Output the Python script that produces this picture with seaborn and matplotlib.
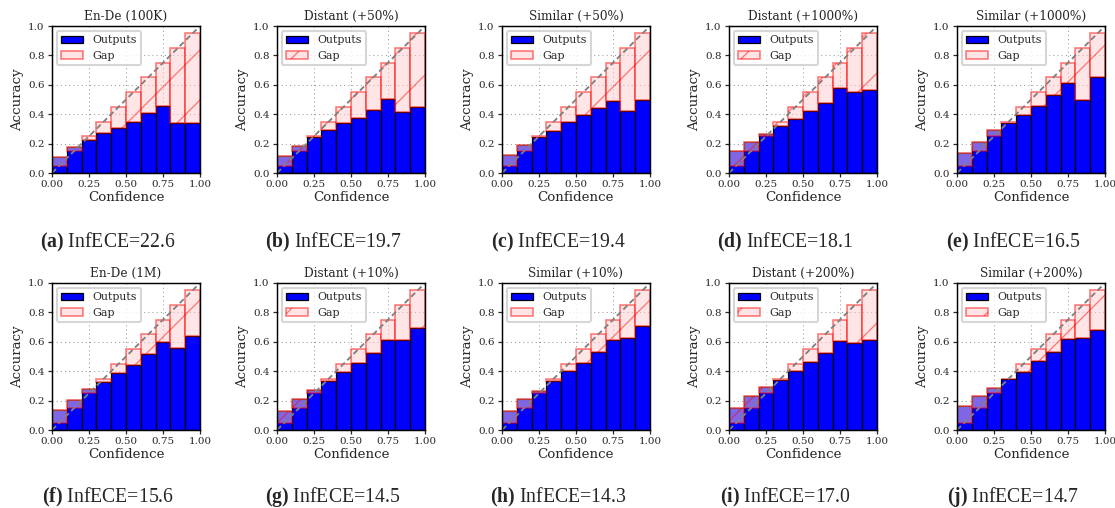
import numpy as np
import matplotlib.pyplot as plt
import seaborn as sns
from matplotlib.patches import Patch

sns.set_style("white")
plt.rcParams["font.family"] = ["DejaVu Serif"]
plt.rcParams["mathtext.fontset"] = "custom"
plt.rcParams["mathtext.rm"] = "Liberation Serif"
plt.rcParams["mathtext.bf"] = "Liberation Serif:bold"
plt.rcParams["hatch.linewidth"] = 0.6

# bin centres (expected accuracy) and measured accuracy per bin
conf = [0.05, 0.15, 0.25, 0.35, 0.45, 0.55, 0.65, 0.75, 0.85, 0.95]

titles = ["En-De (100K)", "Distant (+50%)", "Similar (+50%)", "Distant (+1000%)", "Similar (+1000%)",
          "En-De (1M)", "Distant (+10%)", "Similar (+10%)", "Distant (+200%)", "Similar (+200%)"]
letters = ["a", "b", "c", "d", "e", "f", "g", "h", "i", "j"]
infece = ["22.6", "19.7", "19.4", "18.1", "16.5", "15.6", "14.5", "14.3", "17.0", "14.7"]

acc_a = [0.109, 0.180, 0.227, 0.274, 0.308, 0.347, 0.408, 0.458, 0.338, 0.340]
acc_b = [0.118, 0.186, 0.245, 0.292, 0.338, 0.376, 0.426, 0.501, 0.415, 0.447]
acc_c = [0.125, 0.190, 0.245, 0.288, 0.345, 0.395, 0.442, 0.490, 0.420, 0.499]
acc_d = [0.147, 0.210, 0.268, 0.320, 0.370, 0.420, 0.478, 0.576, 0.551, 0.562]
acc_e = [0.138, 0.210, 0.290, 0.342, 0.397, 0.458, 0.528, 0.612, 0.497, 0.653]
acc_f = [0.133, 0.205, 0.277, 0.329, 0.385, 0.444, 0.520, 0.601, 0.561, 0.640]
acc_g = [0.128, 0.210, 0.270, 0.331, 0.394, 0.453, 0.527, 0.610, 0.610, 0.696]
acc_h = [0.130, 0.214, 0.264, 0.331, 0.399, 0.455, 0.532, 0.610, 0.626, 0.709]
acc_i = [0.153, 0.234, 0.290, 0.342, 0.400, 0.462, 0.522, 0.606, 0.592, 0.613]
acc_j = [0.160, 0.234, 0.288, 0.347, 0.394, 0.468, 0.532, 0.622, 0.624, 0.682]
accs = [acc_a, acc_b, acc_c, acc_d, acc_e, acc_f, acc_g, acc_h, acc_i, acc_j]

W, H = 1115, 508
fig = plt.figure(figsize=(W / 150, H / 150), dpi=150)

lefts = [52, 277, 502, 729, 957]
tops = [26, 283]
aw, ah = 148, 147
cap_y = [242, 497]

for k in range(10):
    r, c = divmod(k, 5)
    ax = fig.add_axes([lefts[c] / W, 1 - (tops[r] + ah) / H, aw / W, ah / H])
    ax.set_axisbelow(True)
    ax.grid(True, linestyle=(0, (1, 3)), color="#999999", linewidth=0.5)
    acc = np.array(accs[k])
    cf = np.array(conf)
    ax.bar(cf, acc, width=0.1, color="b", edgecolor="black", linewidth=0.6)
    ax.bar(cf, acc - cf, bottom=cf, width=0.1, color=(1, 0.8, 0.8), alpha=0.5,
           edgecolor="r", hatch="/", linewidth=0.8)
    sns.lineplot(x=[0, 1], y=[0, 1], ax=ax, color="gray", linestyle=(0, (3, 1.8)), linewidth=0.9)
    ax.set_xlim(0, 1)
    ax.set_ylim(0, 1)
    ax.set_xticks([0, 0.25, 0.5, 0.75, 1.0])
    ax.set_xticklabels(["0.00", "0.25", "0.50", "0.75", "1.00"])
    ax.set_yticks([0, 0.2, 0.4, 0.6, 0.8, 1.0])
    ax.set_yticklabels(["0.0", "0.2", "0.4", "0.6", "0.8", "1.0"])
    ax.tick_params(labelsize=5.0, length=2, width=0.6, pad=1.5, direction="out",
                   bottom=True, left=True)
    for s in ax.spines.values():
        s.set_linewidth(0.7)
        s.set_color("black")
    ax.set_xlabel("Confidence", fontsize=6.4, labelpad=1)
    ax.set_ylabel("Accuracy", fontsize=6.4, labelpad=2)
    ax.set_title(titles[k], fontsize=5.8, pad=3)
    handles = [Patch(facecolor="b", edgecolor="black", linewidth=0.6),
               Patch(facecolor=(1, 0.8, 0.8), alpha=0.5, edgecolor="r", hatch="/", linewidth=0.8)]
    ax.legend(handles, ["Outputs", "Gap"], loc="upper left", fontsize=5.3,
              borderpad=0.4, labelspacing=0.5, handlelength=2.0, handletextpad=0.8,
              borderaxespad=0.45, frameon=True, edgecolor="#cccccc", framealpha=0.8)
    cx = (lefts[c] + aw / 2 - 18) / W
    fig.text(cx, 1 - cap_y[r] / H, r"$\mathbf{(" + letters[k] + r")}$ InfECE=" + infece[k],
             ha="center", va="center", fontsize=9.5, family="Liberation Serif")

fig.savefig("out.png", dpi=150)
